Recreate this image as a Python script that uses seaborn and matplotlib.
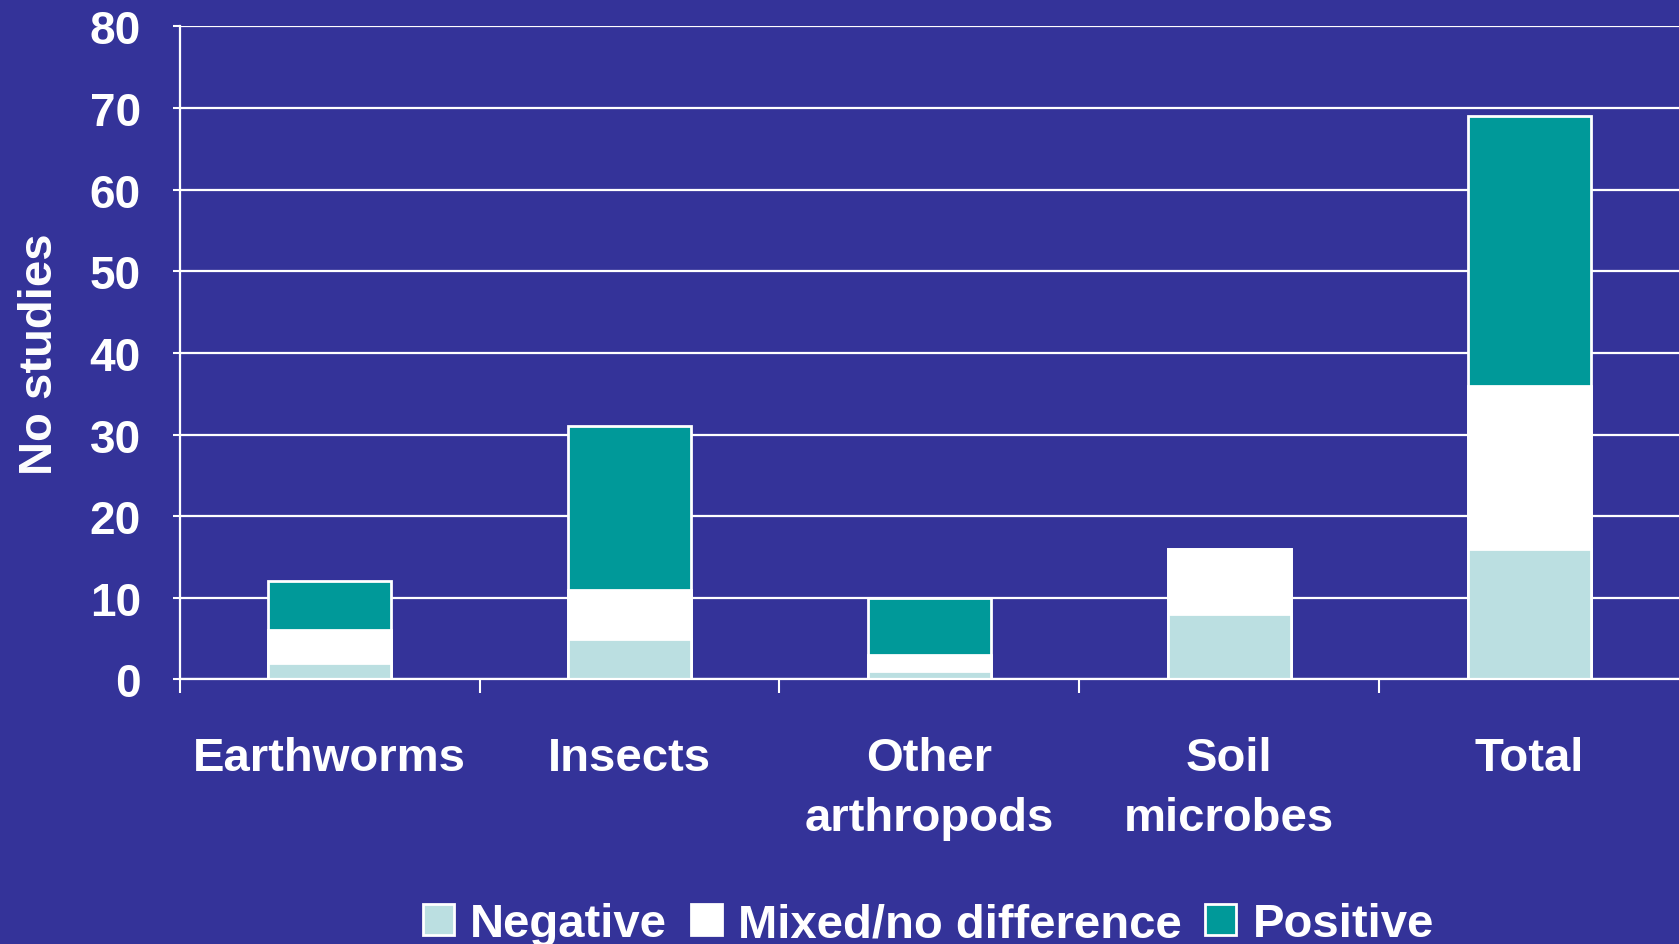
import matplotlib
matplotlib.use('Agg')
import matplotlib.pyplot as plt
import numpy as np
import pandas as pd
import seaborn as sns

categories = ['Earthworms', 'Insects', 'Other\narthropods', 'Soil\nmicrobes', 'Total']
negative = [2, 5, 1, 8, 16]
mixed = [4, 6, 2, 8, 20]
positive = [6, 20, 7, 0, 33]
series_names = ['Negative', 'Mixed/no difference', 'Positive']
y_ticks = [0, 10, 20, 30, 40, 50, 60, 70, 80]

BG = '#343399'
COLORS = {'Negative': '#bbdfe1', 'Mixed/no difference': '#ffffff', 'Positive': '#009999'}

df = pd.DataFrame({'category': categories, 'Negative': negative,
                   'Mixed/no difference': mixed, 'Positive': positive})
# cumulative tops for stacking by overlay
df['top_neg'] = df['Negative']
df['top_mix'] = df['Negative'] + df['Mixed/no difference']
df['top_pos'] = df['top_mix'] + df['Positive']

sns.set_style('white')
plt.rcParams['font.family'] = ['Liberation Sans', 'DejaVu Sans']
plt.rcParams['font.weight'] = 'bold'

fig = plt.figure(figsize=(16.79, 9.45), dpi=100, facecolor=BG)
ax = fig.add_axes([0.107, 0.280, 0.893, 0.691])
ax.set_facecolor(BG)

for col, name in [('top_pos', 'Positive'), ('top_mix', 'Mixed/no difference'),
                  ('top_neg', 'Negative')]:
    sns.barplot(data=df, x='category', y=col, color=COLORS[name], width=0.41,
                edgecolor='white', linewidth=2, label=name, ax=ax, saturation=1)

ax.set_ylim(0, 80)
ax.set_xlim(-0.5, 4.5)
ax.set_yticks(y_ticks)
ax.yaxis.grid(True, color='white', linewidth=1.6)
ax.set_axisbelow(True)

# configure ticks
ax.tick_params(axis='y', colors='white', labelsize=33, length=5, width=1.5,
               pad=23, direction='out', left=True)
ax.tick_params(axis='x', which='major', length=0, colors='white', labelsize=34, pad=41)
ax.set_xticks(np.arange(-0.5, 4.0, 1.0), minor=True)
ax.tick_params(axis='x', which='minor', length=10, width=1.5, color='white',
               direction='out', bottom=True)
for lbl in ax.get_xticklabels() + ax.get_yticklabels():
    lbl.set_fontweight('bold')
for lbl in ax.get_xticklabels():
    lbl.set_linespacing(1.45)

ax.set_xlabel('')
ax.set_ylabel('No studies', color='white', fontsize=34, fontweight='bold', labelpad=20)

# configure spines
for s in ['left', 'bottom']:
    ax.spines[s].set_color('white')
    ax.spines[s].set_linewidth(1.6)
for s in ['top', 'right']:
    ax.spines[s].set_visible(False)

# legend in Negative, Mixed, Positive order
handles, labels = ax.get_legend_handles_labels()
order = [labels.index(n) for n in series_names]
leg = fig.legend([handles[i] for i in order], [labels[i] for i in order],
                 loc='center', bbox_to_anchor=(0.553, 0.021), ncol=3, frameon=False,
                 fontsize=34, handlelength=0.65, handleheight=0.65,
                 handletextpad=0.35, columnspacing=0.5)
for t in leg.get_texts():
    t.set_color('white')
    t.set_fontweight('bold')
if ax.get_legend() is not None:
    ax.get_legend().remove()

plt.savefig('out.png', dpi=100, facecolor=BG)
plt.close()
